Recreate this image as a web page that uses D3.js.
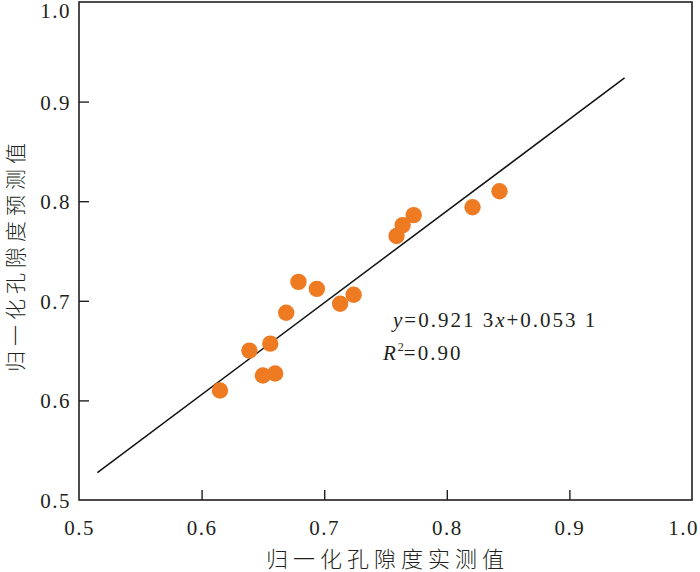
<!DOCTYPE html>
<html>
<head>
<meta charset="utf-8">
<script src="https://cdn.jsdelivr.net/npm/d3@7"></script>
<style>
  html, body { margin: 0; padding: 0; background: #fff; }
  svg { display: block; }
  .num { font-family: "Liberation Serif", "Times New Roman", Times, serif; }
</style>
</head>
<body>
<div id="chart"></div>
<script>
// measured vs predicted normalized porosity
var measured = [0.615, 0.639, 0.656, 0.650, 0.660, 0.669, 0.679, 0.694, 0.713, 0.724,
                0.759, 0.764, 0.773, 0.821, 0.843];
var predicted = [0.610, 0.650, 0.657, 0.625, 0.627, 0.688, 0.719, 0.712, 0.697, 0.706,
                 0.765, 0.776, 0.786, 0.794, 0.810];
var xTicks = [0.5, 0.6, 0.7, 0.8, 0.9, 1.0];
var yTicks = [0.5, 0.6, 0.7, 0.8, 0.9, 1.0];
var fitSlope = 0.9213;
var fitIntercept = 0.0531;
var fitRange = [0.515, 0.945];
var xTitle = '归一化孔隙度实测值';
var yTitle = '归一化孔隙度预测值';

var width = 700, height = 572;
var margin = {top: 2, right: 8, bottom: 72, left: 79};

var svg = d3.select('#chart').append('svg')
  .attr('width', width)
  .attr('height', height);

var x = d3.scaleLinear().domain([0.5, 1.0]).range([margin.left, width - margin.right]);
var y = d3.scaleLinear().domain([0.5, 1.0]).range([height - margin.bottom, margin.top]);

var ink = '#231f20';
var cjkFont = '"Noto Sans CJK SC", sans-serif';

// frame
svg.append('rect')
  .attr('x', x(0.5))
  .attr('y', y(1.0))
  .attr('width', x(1.0) - x(0.5))
  .attr('height', y(0.5) - y(1.0))
  .attr('fill', 'none')
  .attr('stroke', ink)
  .attr('stroke-width', 1.6);

// axes, ticks pointing inward
var xAxis = svg.append('g')
  .attr('transform', 'translate(0,' + y(0.5) + ')')
  .call(d3.axisBottom(x).tickValues(xTicks).tickSize(-10).tickPadding(20)
    .tickFormat(d3.format('.1f')));
var yAxis = svg.append('g')
  .attr('transform', 'translate(' + x(0.5) + ',0)')
  .call(d3.axisLeft(y).tickValues(yTicks).tickSize(-10).tickPadding(8)
    .tickFormat(d3.format('.1f')));

[xAxis, yAxis].forEach(function(g) {
  g.attr('font-family', null).attr('font-size', null);
  g.select('.domain').remove();
  g.selectAll('.tick line').attr('stroke', ink).attr('stroke-width', 1.4);
  g.selectAll('.tick text')
    .attr('class', 'num')
    .attr('fill', ink)
    .style('font-size', '21px')
    .style('letter-spacing', '1.5px');
});
xAxis.selectAll('.tick line').filter(function(d) { return d === 0.5 || d === 1.0; }).remove();
yAxis.selectAll('.tick line').filter(function(d) { return d === 0.5 || d === 1.0; }).remove();
yAxis.selectAll('.tick text').attr('dy', '0.36em');
yAxis.select('.tick:last-of-type text').attr('dy', '0.72em');
xAxis.select('.tick:last-of-type text').attr('dx', '-9');

// fitted line
svg.append('line')
  .attr('x1', x(fitRange[0]))
  .attr('y1', y(fitSlope * fitRange[0] + fitIntercept))
  .attr('x2', x(fitRange[1]))
  .attr('y2', y(fitSlope * fitRange[1] + fitIntercept))
  .attr('stroke', '#111')
  .attr('stroke-width', 1.5);

// points
svg.append('g').selectAll('circle')
  .data(measured.map(function(m, i) { return {m: m, p: predicted[i]}; }))
  .enter().append('circle')
  .attr('cx', function(d) { return x(d.m); })
  .attr('cy', function(d) { return y(d.p); })
  .attr('r', 8.2)
  .attr('fill', '#ee7a22');

// equation
var eq = svg.append('text')
  .attr('class', 'num')
  .attr('x', 393)
  .attr('y', 327)
  .attr('fill', ink)
  .style('font-size', '21px')
  .style('letter-spacing', '2px');
eq.append('tspan').style('font-style', 'italic').text('y');
eq.append('tspan').text('=0.921 3');
eq.append('tspan').style('font-style', 'italic').text('x');
eq.append('tspan').text('+0.053 1');

var r2 = svg.append('text')
  .attr('class', 'num')
  .attr('x', 383)
  .attr('y', 360)
  .attr('fill', ink)
  .style('font-size', '21px')
  .style('letter-spacing', '2px');
r2.append('tspan').style('font-style', 'italic').text('R');
r2.append('tspan').attr('dy', -9).style('font-size', '12px').style('letter-spacing', '0px').text('2');
r2.append('tspan').attr('dy', 9).text('=0.90');

// axis titles
svg.append('text')
  .attr('x', (x(0.5) + x(1.0)) / 2 + 2)
  .attr('y', 567)
  .attr('text-anchor', 'middle')
  .attr('fill', ink)
  .style('font-family', cjkFont)
  .style('font-weight', 300)
  .style('font-size', '22px')
  .style('letter-spacing', '5px')
  .text(xTitle);

svg.append('text')
  .attr('transform', 'translate(23,' + 255 + ') rotate(-90)')
  .attr('text-anchor', 'middle')
  .attr('fill', ink)
  .style('font-family', cjkFont)
  .style('font-weight', 300)
  .style('font-size', '21px')
  .style('letter-spacing', '5px')
  .text(yTitle);
</script>
</body>
</html>
